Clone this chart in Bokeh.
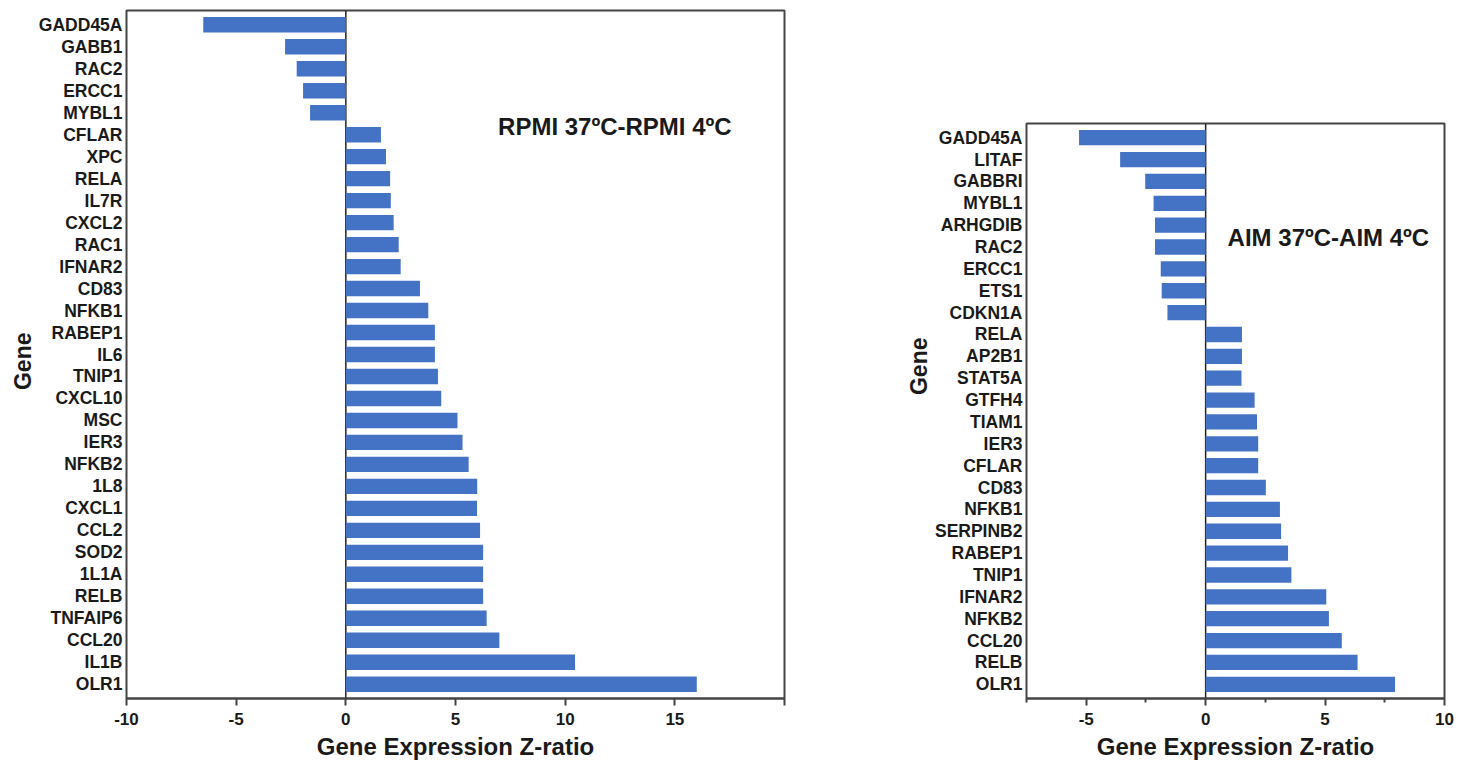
from bokeh.plotting import figure
from bokeh.models import Range1d, FactorRange, FixedTicker, Span, Label, Title
from bokeh.layouts import row
from bokeh.embed import file_html
from bokeh.resources import INLINE

# ---- data: RPMI 37ºC - RPMI 4ºC (top to bottom) ----
rpmi_genes = ["GADD45A", "GABB1", "RAC2", "ERCC1", "MYBL1", "CFLAR", "XPC", "RELA",
              "IL7R", "CXCL2", "RAC1", "IFNAR2", "CD83", "NFKB1", "RABEP1", "IL6",
              "TNIP1", "CXCL10", "MSC", "IER3", "NFKB2", "1L8", "CXCL1", "CCL2",
              "SOD2", "1L1A", "RELB", "TNFAIP6", "CCL20", "IL1B", "OLR1"]
rpmi_z = [-6.5, -2.77, -2.24, -1.95, -1.63, 1.6, 1.83, 2.02,
          2.05, 2.18, 2.41, 2.5, 3.38, 3.76, 4.06, 4.06,
          4.2, 4.35, 5.09, 5.32, 5.6, 5.99, 5.98, 6.12,
          6.26, 6.26, 6.26, 6.42, 7.0, 10.45, 16.0]
rpmi_ticks = [-10, -5, 0, 5, 10, 15, 20]
rpmi_tick_labels = {-10: "-10", -5: "-5", 0: "0", 5: "5", 10: "10", 15: "15", 20: ""}

# ---- data: AIM 37ºC - AIM 4ºC (top to bottom) ----
aim_genes = ["GADD45A", "LITAF", "GABBRI", "MYBL1", "ARHGDIB", "RAC2", "ERCC1", "ETS1",
             "CDKN1A", "RELA", "AP2B1", "STAT5A", "GTFH4", "TIAM1", "IER3", "CFLAR",
             "CD83", "NFKB1", "SERPINB2", "RABEP1", "TNIP1", "IFNAR2", "NFKB2", "CCL20",
             "RELB", "OLR1"]
aim_z = [-5.3, -3.58, -2.53, -2.18, -2.12, -2.12, -1.88, -1.84,
         -1.6, 1.52, 1.52, 1.5, 2.05, 2.15, 2.2, 2.2,
         2.52, 3.11, 3.16, 3.45, 3.59, 5.05, 5.16, 5.7,
         6.36, 7.93]
aim_ticks = [-5, 0, 5, 10]
aim_minor_ticks = [-7.5, -2.5, 2.5, 7.5]
aim_tick_labels = {-5: "-5", 0: "0", 5: "5", 10: "10"}

FONT = "Liberation Sans"
BAR = "#4472C4"
INK = "#1a1a1a"
AXIS = "#444444"


def row_pos(genes, g):
    # synthetic coordinate of a factor's centre (factors listed bottom to top)
    return (len(genes) - 1 - genes.index(g)) + 0.5


def make(genes, z, xr, ticks, minor, labels, width, height, b_left, b_top, b_right,
         title, tx, ty, toff, gene_offset, margin_top):
    p = figure(width=width, height=height,
               x_range=Range1d(xr[0], xr[1]),
               y_range=FactorRange(factors=genes[::-1], range_padding=0.15,
                                   range_padding_units="absolute"),
               output_backend="svg", toolbar_location=None,
               min_border_left=b_left, min_border_top=b_top,
               min_border_right=b_right, min_border_bottom=0,
               margin=(margin_top, 0, 0, 0))
    p.background_fill_color = "white"
    p.border_fill_color = "white"
    p.outline_line_color = AXIS
    p.outline_line_width = 2
    p.xgrid.visible = False
    p.ygrid.visible = False

    p.add_layout(Span(location=0, dimension="height", line_color="#222222",
                      line_width=1.5, level="underlay"))
    p.hbar(y=genes, left=0, right=z, height=0.7, fill_color=BAR, line_color=None)

    xa = p.xaxis[0]
    xa.ticker = FixedTicker(ticks=ticks, minor_ticks=minor)
    xa.major_label_overrides = labels
    xa.axis_line_color = AXIS
    xa.axis_line_width = 2
    xa.major_tick_line_color = AXIS
    xa.major_tick_line_width = 2
    xa.major_tick_out = 7
    xa.major_tick_in = 0
    xa.minor_tick_line_color = AXIS
    xa.minor_tick_line_width = 2
    xa.minor_tick_out = 4
    xa.minor_tick_in = 0
    xa.major_label_standoff = 7
    xa.major_label_text_font = FONT
    xa.major_label_text_font_style = "bold"
    xa.major_label_text_font_size = "17px"
    xa.major_label_text_color = INK
    xa.axis_label = "Gene Expression Z-ratio"
    xa.axis_label_text_font = FONT
    xa.axis_label_text_font_style = "bold"
    xa.axis_label_text_font_size = "24px"
    xa.axis_label_text_color = INK
    xa.axis_label_standoff = 5

    ya = p.yaxis[0]
    ya.axis_line_color = None
    ya.major_tick_line_color = None
    ya.minor_tick_line_color = None
    ya.major_tick_out = 0
    ya.major_tick_in = 0
    ya.minor_tick_out = 0
    ya.minor_tick_in = 0
    ya.major_label_standoff = 4
    ya.major_label_text_font = FONT
    ya.major_label_text_font_style = "bold"
    ya.major_label_text_font_size = "17.5px"
    ya.major_label_text_color = INK

    p.add_layout(Label(x=tx, y=row_pos(genes, ty), y_offset=toff, text=title,
                       text_align="left", text_baseline="middle",
                       text_font=FONT, text_font_style="bold",
                       text_font_size="24px", text_color=INK))
    p.add_layout(Title(text="Gene", align="right", offset=gene_offset,
                       standoff=0, text_font=FONT, text_font_style="bold",
                       text_font_size="23px", text_color=INK), "left")
    return p


p1 = make(rpmi_genes, rpmi_z, (-10, 20), rpmi_ticks, [], rpmi_tick_labels,
          800, 762, 126, 10, 16, "RPMI 37ºC-RPMI 4ºC", 6.94, "CFLAR", 8, 322, 0)
p2 = make(aim_genes, aim_z, (-7.5, 10), aim_ticks, aim_minor_ticks, aim_tick_labels,
          658, 649, 226, 10, 14, "AIM 37ºC-AIM 4ºC", 0.92, "RAC2", 10, 214, 113)

layout = row(p1, p2)
open("out.html", "w").write(file_html(layout, INLINE))
